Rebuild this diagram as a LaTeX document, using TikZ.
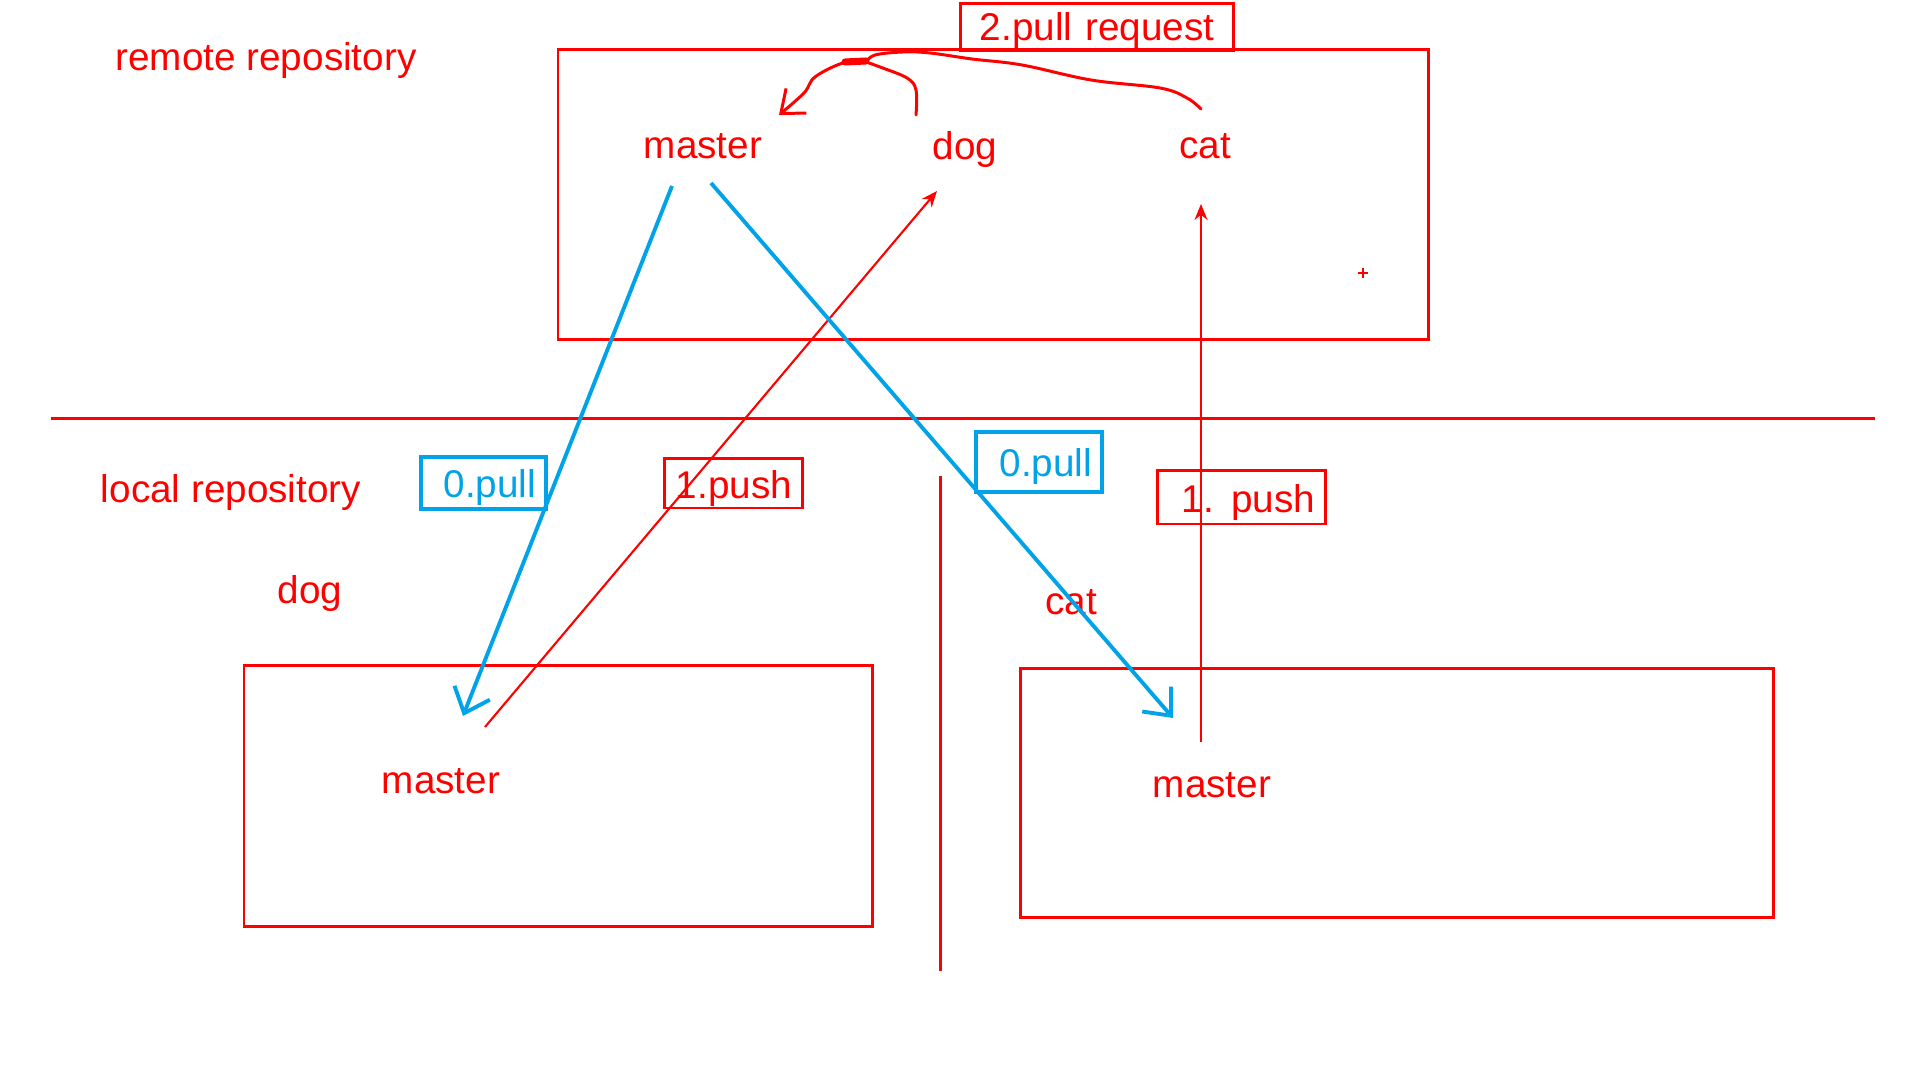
\documentclass[tikz,border=0pt]{standalone}
\usepackage{fontspec}
\setmainfont{Liberation Sans}
\usetikzlibrary{arrows.meta}
\definecolor{paintred}{RGB}{255,0,0}
\definecolor{paintblue}{RGB}{0,162,232}

\begin{document}
\begin{tikzpicture}[x=0.01cm, y=-0.01cm,
  every node/.style={font=\fontsize{11}{13}\selectfont},
  lbl/.style={text=paintred, inner sep=0pt},
  repobox/.style={draw=paintred, line width=0.85pt},
  pushbox/.style={draw=paintred, line width=0.85pt, text=paintred, inner xsep=1mm, inner ysep=0pt,
    text height=0.85em, text depth=0pt, align=right},
  pullbox/.style={draw=paintblue, line width=1.3pt, text=paintblue, inner xsep=1mm, inner ysep=0pt,
    text height=0.85em, text depth=0pt, align=right},
  pullarrow/.style={draw=paintblue, line width=1.1pt, -{Straight Barb[length=2.2mm, width=3.8mm]}},
  pusharrow/.style={draw=paintred, line width=0.6pt, -{Stealth[length=1.6mm, width=1.3mm]}},
  prline/.style={draw=paintred, line width=0.85pt, line cap=round, line join=round}
]
  \useasboundingbox (0,0) rectangle (1920,1080);

  % Remote side
  \node[lbl] (remtitle) at (266,61) {remote repository};
  \draw[repobox] (558,50) rectangle (1428,340);
  \node[lbl] (rmaster) at (703,146) {master};
  \node[lbl] (rdog) at (965,150) {dog};
  \node[lbl] (rcat) at (1205,146) {cat};
  \node[pushbox, text width=25.2mm, minimum height=4.7mm, text height=0.75em, align=center] (prq) at (1097,27.5) {2.pull request};

  % Pull request scribble
  \draw[prline] plot[smooth, tension=0.6] coordinates {
    (1201,109) (1187,98) (1160,88) (1091,80) (1022,65) (972,59) (930,53) (903,52) (875,55) (866,62)
  };
  \draw[prline] plot[smooth, tension=0.6] coordinates {(916,115) (916,90) (907,78) (880,67) (866,62)};
  \draw[prline, line width=2pt] (845,62) -- (866,61);
  \draw[prline, -{Straight Barb[length=2mm, width=3.2mm]}] plot[smooth, tension=0.6] coordinates {
    (866,62) (843,63) (815,77) (804,93) (779,115)
  };
  \draw[paintred, line width=0.7pt] (1358,273) -- (1368,273) (1363,268) -- (1363,278);

  % Divider
  \draw[paintred, line width=0.85pt] (51,419) -- (1875,419);
  \draw[paintred, line width=0.85pt] (940,476) -- (940,971);

  % Local side
  \node[lbl] (loctitle) at (231,493) {local repository};
  \node[lbl] (ldog) at (310,594) {dog};
  \node[lbl] (lcat) at (1071,602) {cat};
  \draw[repobox] (244,666) rectangle (872,927);
  \draw[repobox] (1020,669) rectangle (1773,918);
  \node[lbl] (lmasterdog) at (441,781) {master};
  \node[lbl] (lmastercat) at (1212,785) {master};

  % Step labels
  \node[pullbox, text width=10.5mm, minimum height=5.2mm] (pulldog) at (483.5,483) {0.pull};
  \node[pushbox, text width=11.7mm, minimum height=4.9mm] (pushdog) at (733.5,483.5) {1.push};
  \node[pullbox, text width=10.6mm, minimum height=6mm] (pullcat) at (1039,462) {0.pull};
  \node[pushbox, text width=14.7mm, minimum height=5.3mm] (pushcat) at (1241.5,497.5) {1.\hspace{0.45em}push};

  % Arrow ends
  \coordinate (pullfromA) at (672,186);
  \coordinate (pulltoA) at (463,716);
  \coordinate (pullfromB) at (711,183);
  \coordinate (pulltoB) at (1173,718);
  \coordinate (pushfromA) at (485,727);
  \coordinate (pushtoA) at (937,191);
  \coordinate (pushfromB) at (1201,742);
  \coordinate (pushtoB) at (1201,204);

  \draw[pusharrow] (pushfromA) -- (pushtoA);
  \draw[pusharrow] (pushfromB) -- (pushtoB);
  \draw[pullarrow] (pullfromA) -- (pulltoA);
  \draw[pullarrow] (pullfromB) -- (pulltoB);
\end{tikzpicture}
\end{document}
